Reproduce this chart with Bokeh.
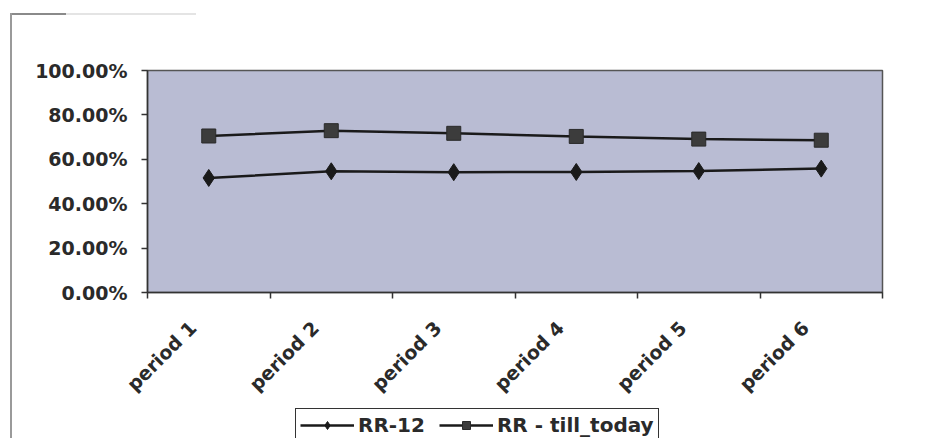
import math
from bokeh.plotting import figure
from bokeh.layouts import column
from bokeh.models import (FixedTicker, NumeralTickFormatter, Range1d, Legend, LegendItem)
from bokeh.embed import file_html
from bokeh.resources import INLINE

categories = ["period 1", "period 2", "period 3", "period 4", "period 5", "period 6"]
rr_12 = [0.516, 0.546, 0.542, 0.543, 0.547, 0.558]
rr_till_today = [0.705, 0.729, 0.717, 0.703, 0.691, 0.686]
y_ticks = [0.0, 0.2, 0.4, 0.6, 0.8, 1.0]

n = len(categories)
xs = [i + 0.5 for i in range(n)]
label_pos = [x - 0.13 for x in xs]   # rotated labels end slightly left of the category centre

FONT = "DejaVu Sans"
LINE_C = "#1a1a1a"
SQ_FILL = "#3c3c3c"

p = figure(width=936, height=406, output_backend="svg", toolbar_location=None,
           x_range=Range1d(0, n), y_range=Range1d(0, 1.0),
           min_border_left=147, min_border_right=54, min_border_top=70, min_border_bottom=114)
p.background_fill_color = "#b9bcd3"
p.border_fill_alpha = 0.0
p.outline_line_color = "#555555"
p.outline_line_width = 1.5
p.grid.visible = False
p.styles = {
    "background": ("linear-gradient(#9a9a9a,#9a9a9a) 10px 13px / 2px 430px no-repeat, "
                   "linear-gradient(#8a8a8a,#8a8a8a) 10px 13px / 56px 2px no-repeat, "
                   "linear-gradient(#e4e4e4,#e4e4e4) 66px 13px / 130px 2px no-repeat, white"),
}

# x axis
p.xaxis.ticker = FixedTicker(ticks=label_pos, minor_ticks=list(range(n + 1)))
p.xaxis.major_label_overrides = {x: c for x, c in zip(label_pos, categories)}
p.xaxis.major_tick_line_color = None
p.xaxis.minor_tick_out = 6
p.xaxis.minor_tick_in = 0
p.xaxis.minor_tick_line_color = "#333333"
p.xaxis.minor_tick_line_width = 1.5
p.xaxis.axis_line_color = "#333333"
p.xaxis.axis_line_width = 1.5
p.xaxis.major_label_orientation = math.pi / 4
p.xaxis.major_label_standoff = 26
p.xaxis.major_label_text_font = FONT
p.xaxis.major_label_text_font_style = "bold"
p.xaxis.major_label_text_font_size = "19px"
p.xaxis.major_label_text_color = "#2a2a2a"

# y axis
p.yaxis.ticker = FixedTicker(ticks=y_ticks, minor_ticks=[])
p.yaxis.formatter = NumeralTickFormatter(format="0.00%")
p.yaxis.major_tick_out = 6
p.yaxis.major_tick_in = 0
p.yaxis.major_tick_line_color = "#333333"
p.yaxis.major_tick_line_width = 1.5
p.yaxis.axis_line_color = "#333333"
p.yaxis.axis_line_width = 1.5
p.yaxis.major_label_standoff = 14
p.yaxis.major_label_text_font = FONT
p.yaxis.major_label_text_font_style = "bold"
p.yaxis.major_label_text_font_size = "19px"
p.yaxis.major_label_text_color = "#2a2a2a"

p.line(xs, rr_12, line_color=LINE_C, line_width=2.5)
p.scatter(xs, rr_12, marker="diamond", size=17, fill_color=LINE_C, line_color=LINE_C)
p.line(xs, rr_till_today, line_color=LINE_C, line_width=2.5)
p.scatter(xs, rr_till_today, marker="square", size=14, fill_color=SQ_FILL, line_color="#2a2a2a")

# legend strip below the chart (its own renderers lie outside its visible range)
lg = figure(width=936, height=32, output_backend="svg", toolbar_location=None,
            x_range=Range1d(0, n), y_range=Range1d(10, 11),
            x_axis_type=None, y_axis_type=None, min_border=0)
lg.outline_line_color = None
lg.background_fill_alpha = 0.0
lg.border_fill_alpha = 0.0
lg.grid.visible = False
lg.styles = {"background": "linear-gradient(#9a9a9a,#9a9a9a) 10px 0px / 2px 40px no-repeat, white"}

el1 = lg.line(xs, rr_12, line_color=LINE_C, line_width=2.5)
es1 = lg.scatter(xs, rr_12, marker="diamond", size=17, fill_color=LINE_C, line_color=LINE_C)
el2 = lg.line(xs, rr_till_today, line_color=LINE_C, line_width=2.5)
es2 = lg.scatter(xs, rr_till_today, marker="square", size=14, fill_color=SQ_FILL, line_color="#2a2a2a")

legend = Legend(items=[LegendItem(label="RR-12", renderers=[el1, es1]),
                       LegendItem(label="RR - till_today", renderers=[el2, es2])],
                orientation="horizontal", location=(148, -4),
                label_text_font=FONT, label_text_font_style="bold",
                label_text_font_size="20px", label_text_color="#2a2a2a",
                glyph_width=54, glyph_height=20, label_standoff=4, spacing=14,
                padding=4, margin=0,
                border_line_color="#333333", border_line_width=1.5, border_line_alpha=1.0,
                background_fill_color="white", background_fill_alpha=1.0)
lg.add_layout(legend, "center")

layout = column(p, lg, spacing=0)
open("out.html", "w").write(file_html(layout, INLINE))
